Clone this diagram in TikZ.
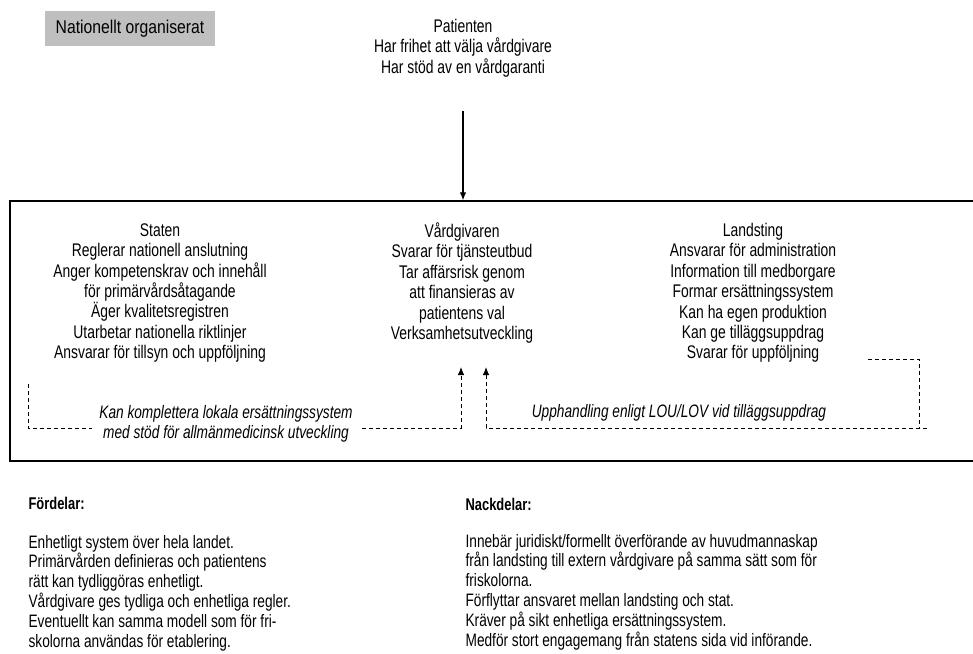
\documentclass[tikz,border=0pt]{standalone}
\usepackage{fontspec}
\usetikzlibrary{arrows.meta}
\setmainfont[FakeStretch=0.76]{Liberation Sans}
\newfontfamily\rubrikfont[FakeStretch=0.85]{Liberation Sans}
\begin{document}
\begin{tikzpicture}[x=1pt, y=-1pt, line width=1.2pt, >={Latex[length=8pt, width=6.5pt]},
        font=\fontsize{18.3}{20.4}\selectfont,
        aktor/.style={align=center},
        kursiv/.style={align=center, font=\fontsize{18}{20}\selectfont\itshape},
        streck/.style={dashed, dash pattern=on 4pt off 3pt, line width=0.9pt},
        rubrik/.style={anchor=west, inner sep=0pt, font=\fontsize{17}{20}\selectfont\bfseries},
        lista/.style={anchor=west, inner sep=0pt, align=left, font=\fontsize{18}{19.8}\selectfont}]
        \useasboundingbox (0,0) rectangle (973,653);

        \node[fill=black!25, minimum width=170pt, minimum height=35pt,
        font=\fontsize{18.5}{20}\rubrikfont]
        (nationellt) at (130,28.5) {Nationellt organiserat};

        \node[aktor] (patient) at (463,48)
        {Patienten\\Har frihet att välja vårdgivare\\Har stöd av en vårdgaranti};
        \node[draw, line width=1.3pt, minimum width=975pt, minimum height=260pt]
        (ram) at (497.5,331) {};
        \draw[->] ([yshift=-30pt]patient.south) -- (patient.south |- ram.north);

        \node[aktor] (staten) at (160,293)
        {Staten\\Reglerar nationell anslutning\\Anger kompetenskrav och innehåll\\för primärvårdsåtagande\\Äger kvalitetsregistren\\Utarbetar nationella riktlinjer\\Ansvarar för tillsyn och uppföljning};
        \node[aktor] (vard) at (462,283)
        {Vårdgivaren\\Svarar för tjänsteutbud\\Tar affärsrisk genom\\att finansieras av\\patientens val\\Verksamhetsutveckling};
        \node[aktor] (landsting) at (753,293)
        {Landsting\\Ansvarar för administration\\Information till medborgare\\Formar ersättningssystem\\Kan ha egen produktion\\Kan ge tilläggsuppdrag\\Svarar för uppföljning};

        \node[kursiv] (komplettera) at (226,424)
        {Kan komplettera lokala ersättningssystem\\med stöd för allmänmedicinsk utveckling};
        \node[kursiv] (upphandling) at (679,413)
        {Upphandling enligt LOU/LOV vid tilläggsuppdrag};

        \coordinate (vard1) at (461,367);
        \coordinate (vard2) at (486,367);
        \draw[streck] (28,384) |- (92,428);
        \draw[streck, ->] (362,428) -| (vard1);
        \draw[streck] (868,359) -| (919,428);
        \draw[streck, ->] (927,428) -| (vard2);

        \node[rubrik] (fordelar) at (28,503) {Fördelar:};
        \node[lista] (fordelarlista) at (28,593)
        {Enhetligt system över hela landet.\\Primärvården definieras och patientens\\rätt kan tydliggöras enhetligt.\\Vårdgivare ges tydliga och enhetliga regler.\\Eventuellt kan samma modell som för fri-\\skolorna användas för etablering.};
        \node[rubrik] (nackdelar) at (465,504) {Nackdelar:};
        \node[lista] (nackdelarlista) at (465,592)
        {Innebär juridiskt/formellt överförande av huvudmannaskap\\från landsting till extern vårdgivare på samma sätt som för\\friskolorna.\\Förflyttar ansvaret mellan landsting och stat.\\Kräver på sikt enhetliga ersättningssystem.\\Medför stort engagemang från statens sida vid införande.};
    \end{tikzpicture}
\end{document}
